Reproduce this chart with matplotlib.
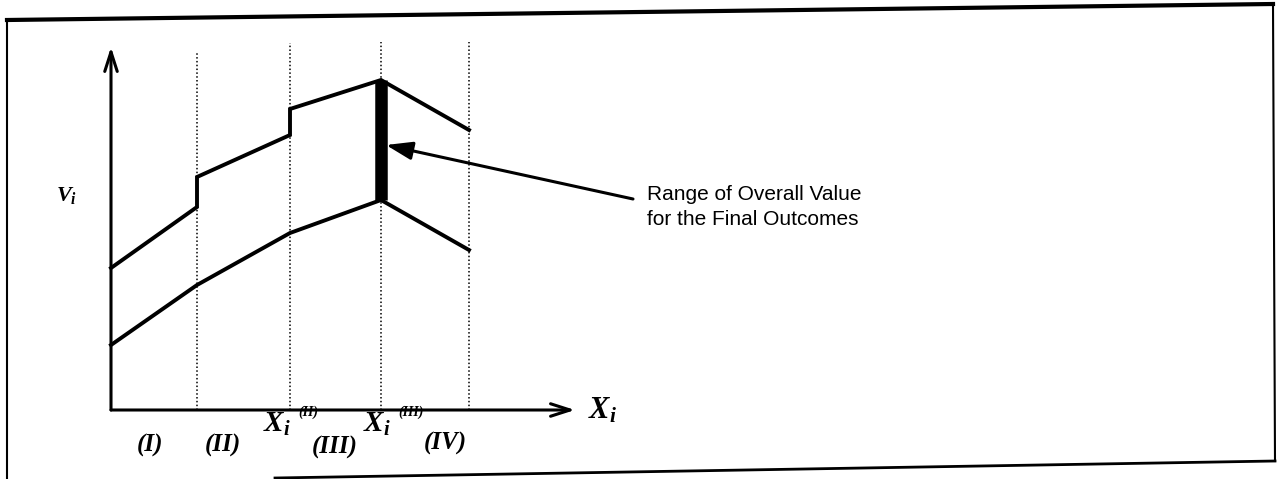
import matplotlib
matplotlib.use("Agg")
import matplotlib.pyplot as plt

plt.rcParams['mathtext.fontset'] = 'custom'
plt.rcParams['mathtext.it'] = 'Liberation Serif:italic:bold'
plt.rcParams['mathtext.rm'] = 'Liberation Serif:bold'

# segment boundaries along X_i
x_bounds = [0, 86, 179, 270, 358]
dot_tops = [358, 367, 368, 368]

# upper curve (with jumps at the boundaries)
upper_x = [0, 86, 86, 179, 179, 270, 358]
upper_y = [142, 203, 233, 275, 301, 330, 280]

# lower curve
lower_x = [0, 86, 179, 270, 358]
lower_y = [65, 125, 177, 210, 160]

seg_labels = ['(I)', '(II)', '(III)', '(IV)']
seg_label_x = [39, 112, 224, 334]
seg_label_y = [-35, -35, -37, -33]

note = 'Range of Overall Value\nfor the Final Outcomes'

fig = plt.figure(figsize=(12.77, 4.79), dpi=100)
ax = fig.add_axes([0, 0, 1, 1])
ax.set_xlim(-111, 1166)
ax.set_ylim(-69, 410)
ax.axis('off')

# outer frame (slightly skewed scan)
ax.plot([-104, 1162], [390, 406], color='black', lw=3)
ax.plot([-104, -104], [390, -69], color='black', lw=1.5)
ax.plot([1162, 1164], [406, -51], color='black', lw=1.5)
ax.plot([164, 1164], [-68, -51], color='black', lw=2)

# axes with open arrow heads
ax.annotate('', xy=(0, 363), xytext=(0, 0),
            arrowprops=dict(arrowstyle='->,head_length=1.4,head_width=0.45', lw=2.2, color='black',
                            shrinkA=0, shrinkB=0))
ax.annotate('', xy=(464, 0), xytext=(0, 0),
            arrowprops=dict(arrowstyle='->,head_length=1.4,head_width=0.45', lw=2.2, color='black',
                            shrinkA=0, shrinkB=0))

# dotted segment boundaries
for xb, top in zip(x_bounds[1:], dot_tops):
    ax.plot([xb, xb], [0, top], color='black', lw=1.1, ls=(0, (1, 1.5)))

ax.plot(upper_x, upper_y, color='black', lw=2.8, solid_joinstyle='miter')
ax.plot(lower_x, lower_y, color='black', lw=2.8, solid_joinstyle='miter')

# range bar at X_i^(III)
ax.plot([x_bounds[3], x_bounds[3]], [lower_y[3], upper_y[5]], color='black', lw=9,
        solid_capstyle='butt')

ax.annotate('', xy=(275, 265), xytext=(522, 211),
            arrowprops=dict(arrowstyle='-|>,head_length=1.6,head_width=0.55', lw=2.2,
                            color='black', shrinkA=0, shrinkB=0))
ax.text(536, 203, note, fontsize=15, family='Liberation Sans', va='center', ha='left',
        linespacing=1.35)

ax.text(-44, 215, r'$V_i$', fontsize=16, ha='center', va='center')
ax.text(491, 0, r'$X_i$', fontsize=22, ha='center', va='center')

for lab, lx, ly in zip(seg_labels, seg_label_x, seg_label_y):
    ax.text(lx, ly, lab, fontsize=18, family='Liberation Serif', style='italic',
            weight='bold', ha='center', va='center')

ax.text(166, -14, r'$X_i$', fontsize=21, ha='center', va='center')
ax.text(197, -2, '(II)', fontsize=10, family='Liberation Serif', style='italic',
        weight='bold', ha='center', va='center')
ax.text(266, -14, r'$X_i$', fontsize=21, ha='center', va='center')
ax.text(300, -2, '(III)', fontsize=10, family='Liberation Serif', style='italic',
        weight='bold', ha='center', va='center')

fig.savefig('out.png', dpi=100)
